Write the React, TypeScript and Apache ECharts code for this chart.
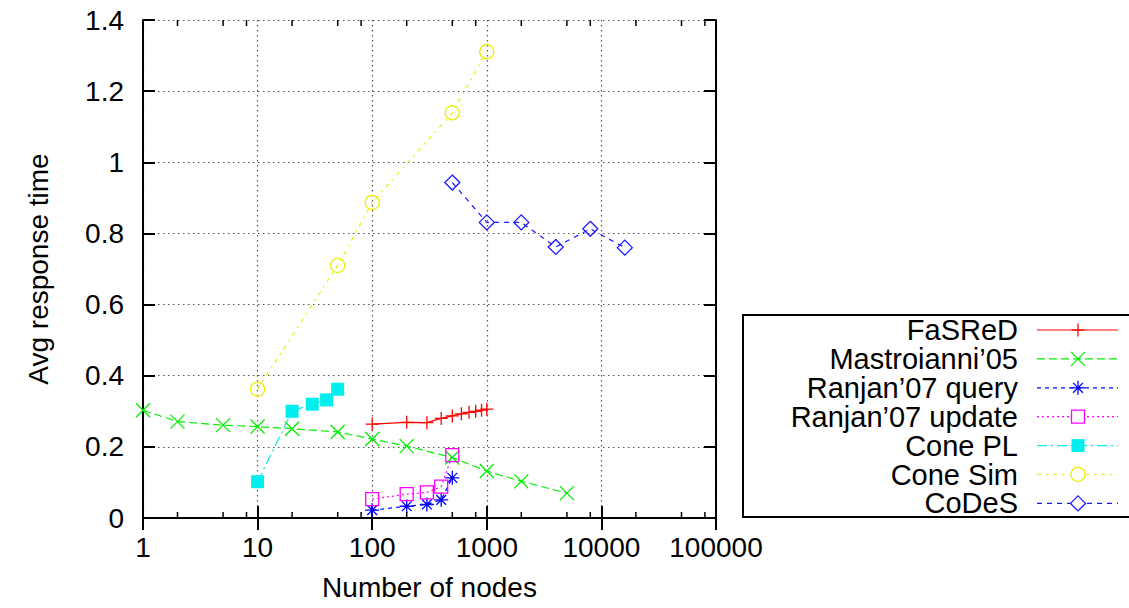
import React, { useEffect, useRef } from "react";
import * as echarts from "echarts";

// Number of nodes (x) and average response time (y) per system
const fasredX = [100, 200, 300, 400, 500, 600, 700, 800, 900, 1000];
const fasredY = [0.264, 0.269, 0.268, 0.28, 0.287, 0.293, 0.297, 0.3, 0.303, 0.306];

const mastroX = [1, 2, 5, 10, 20, 50, 100, 200, 500, 1000, 2000, 5000];
const mastroY = [0.303, 0.271, 0.261, 0.257, 0.251, 0.242, 0.222, 0.202, 0.17, 0.132, 0.103, 0.07];

const ranjanQueryX = [100, 200, 300, 400, 500];
const ranjanQueryY = [0.022, 0.033, 0.038, 0.051, 0.113];

const ranjanUpdateX = [100, 200, 300, 400, 500];
const ranjanUpdateY = [0.053, 0.067, 0.072, 0.088, 0.177];

const conePLX = [10, 20, 30, 40, 50];
const conePLY = [0.102, 0.3, 0.32, 0.332, 0.362];

const coneSimX = [10, 50, 100, 500, 1000];
const coneSimY = [0.362, 0.71, 0.887, 1.139, 1.311];

const codesX = [500, 1000, 2000, 4000, 8000, 16000];
const codesY = [0.943, 0.831, 0.831, 0.762, 0.813, 0.76];

const seriesNames = [
  "FaSReD",
  "Mastroianni\u201905",
  "Ranjan\u201907 query",
  "Ranjan\u201907 update",
  "Cone PL",
  "Cone Sim",
  "CoDeS",
];

const xTickLabels = ["1", "10", "100", "1000", "10000", "100000"];
const yTickLabels = ["0", "0.2", "0.4", "0.6", "0.8", "1", "1.2", "1.4"];
const minorTickValues = [
  2, 5, 8, 20, 50, 80, 200, 500, 800, 2000, 5000, 8000, 20000, 50000, 80000,
];

const X_MIN = 1;
const X_MAX = 100000;
const Y_MIN = 0;
const Y_MAX = 1.4;

const FONT = "'Liberation Sans', Arial, Helvetica, sans-serif";
const FONT_SIZE = 28;
const LEGEND_FONT_SIZE = 29;

type MarkerKind = "plus" | "cross" | "star" | "openSquare" | "square" | "circle" | "diamond";

interface SeriesStyle {
  color: string;
  dash: number[] | "solid";
  marker: MarkerKind;
  size: number;
}

const styles: SeriesStyle[] = [
  { color: "#ff0000", dash: "solid", marker: "plus", size: 13 },
  { color: "#00ee00", dash: [8, 4], marker: "cross", size: 14 },
  { color: "#0000ff", dash: [4, 4], marker: "star", size: 14 },
  { color: "#ff00ff", dash: [2, 3], marker: "openSquare", size: 13 },
  { color: "#00eeee", dash: [10, 4, 2, 4], marker: "square", size: 13 },
  { color: "#eeee00", dash: [4, 5, 2, 5], marker: "circle", size: 14 },
  { color: "#1a1aff", dash: [5, 5], marker: "diamond", size: 15 },
];

const seriesData: [number[], number[]][] = [
  [fasredX, fasredY],
  [mastroX, mastroY],
  [ranjanQueryX, ranjanQueryY],
  [ranjanUpdateX, ranjanUpdateY],
  [conePLX, conePLY],
  [coneSimX, coneSimY],
  [codesX, codesY],
];

const symbolFor = (m: MarkerKind): string => {
  switch (m) {
    case "plus":
      return "path://M0,5L10,5M5,0L5,10";
    case "cross":
      return "path://M0,0L10,10M10,0L0,10";
    case "star":
      return "path://M0,5L10,5M5,0L5,10M1.5,1.5L8.5,8.5M8.5,1.5L1.5,8.5";
    case "openSquare":
    case "square":
      return "rect";
    case "circle":
      return "circle";
    case "diamond":
      return "diamond";
  }
};

const isFilled = (m: MarkerKind) => m === "square";

// Legend marker drawn with graphic primitives
const legendMarker = (m: MarkerKind, cx: number, cy: number, color: string, size: number): any[] => {
  const h = size / 2;
  const stroke = { stroke: color, lineWidth: 1.3, fill: "none" };
  const seg = (x1: number, y1: number, x2: number, y2: number) => ({
    type: "line",
    shape: { x1: cx + x1, y1: cy + y1, x2: cx + x2, y2: cy + y2 },
    style: stroke,
  });
  switch (m) {
    case "plus":
      return [seg(-h, 0, h, 0), seg(0, -h, 0, h)];
    case "cross":
      return [seg(-h, -h, h, h), seg(h, -h, -h, h)];
    case "star": {
      const d = h * 0.7;
      return [seg(-h, 0, h, 0), seg(0, -h, 0, h), seg(-d, -d, d, d), seg(d, -d, -d, d)];
    }
    case "openSquare":
      return [{ type: "rect", shape: { x: cx - h, y: cy - h, width: size, height: size }, style: { ...stroke, fill: "#fff" } }];
    case "square":
      return [{ type: "rect", shape: { x: cx - h, y: cy - h, width: size, height: size }, style: { fill: color } }];
    case "circle":
      return [{ type: "circle", shape: { cx, cy, r: h }, style: { ...stroke, fill: "#fff" } }];
    case "diamond":
      return [
        {
          type: "polygon",
          shape: { points: [[cx, cy - h], [cx + h, cy], [cx, cy + h], [cx - h, cy]] },
          style: { ...stroke, fill: "#fff" },
        },
      ];
  }
};

export default function App() {
  const ref = useRef<HTMLDivElement>(null);

  useEffect(() => {
    if (!ref.current) return;
    const chart = echarts.init(ref.current, undefined, { renderer: "svg" });

    const lineSeries = seriesNames.map((name, i) => {
      const st = styles[i];
      const [xs, ys] = seriesData[i];
      return {
        name,
        type: "line",
        xAxisIndex: 0,
        yAxisIndex: 0,
        data: xs.map((x, k) => [x, ys[k]]),
        symbol: symbolFor(st.marker),
        symbolSize: st.size,
        showAllSymbol: true,
        lineStyle: { color: st.color, width: 1.2, type: st.dash },
        itemStyle: {
          color: isFilled(st.marker) ? st.color : "rgba(255,255,255,0)",
          borderColor: st.color,
          borderWidth: isFilled(st.marker) ? 0 : 1.3,
        },
        emphasis: { disabled: true },
        z: 3,
      };
    });

    // Minor log ticks on the bottom and top edges of the frame
    const minorTicks = {
      type: "custom",
      xAxisIndex: 0,
      yAxisIndex: 0,
      silent: true,
      clip: false,
      data: minorTickValues.map((v) => [v, Y_MIN]),
      encode: { x: 0, y: 1 },
      z: 4,
      renderItem: (_params: any, api: any) => {
        const v = api.value(0);
        const b = api.coord([v, Y_MIN]);
        const t = api.coord([v, Y_MAX]);
        const style = { stroke: "#000", lineWidth: 1.5 };
        return {
          type: "group",
          children: [
            { type: "line", shape: { x1: b[0], y1: b[1], x2: b[0], y2: b[1] - 6 }, style },
            { type: "line", shape: { x1: t[0], y1: t[1], x2: t[0], y2: t[1] + 6 }, style },
          ],
        };
      },
    };

    // Legend box on the right
    const legendTop = 330;
    const legendStep = 28.9;
    const legendGraphics: any[] = [
      {
        type: "rect",
        shape: { x: 743, y: 315, width: 400, height: 202 },
        style: { fill: "none", stroke: "#000", lineWidth: 2 },
      },
    ];
    seriesNames.forEach((name, i) => {
      const y = legendTop + i * legendStep;
      const st = styles[i];
      legendGraphics.push({
        type: "text",
        x: 1018,
        y,
        style: {
          text: name,
          font: `${LEGEND_FONT_SIZE}px ${FONT}`,
          fill: "#000",
          align: "right",
          verticalAlign: "middle",
        },
      });
      legendGraphics.push({
        type: "line",
        shape: { x1: 1037, y1: y, x2: 1118, y2: y },
        style: {
          stroke: st.color,
          lineWidth: 1.2,
          lineDash: st.dash === "solid" ? null : st.dash,
        },
      });
      legendGraphics.push(...legendMarker(st.marker, 1078, y, st.color, st.size));
    });

    const labelStyle = { color: "#000", fontFamily: FONT, fontSize: FONT_SIZE };
    const gridLine = { show: true, lineStyle: { color: "#555", width: 1.2, type: [1.5, 3.5] as number[] } };

    chart.setOption({
      animation: false,
      backgroundColor: "#fff",
      grid: { left: 143, right: 413, top: 20, bottom: 90, containLabel: false },
      xAxis: [
        {
          type: "log",
          logBase: 10,
          min: X_MIN,
          max: X_MAX,
          position: "bottom",
          name: "Number of nodes",
          nameLocation: "middle",
          nameGap: 55,
          nameTextStyle: labelStyle,
          axisLine: { show: true, lineStyle: { color: "#000", width: 2 } },
          axisTick: { show: true, inside: true, length: 12, lineStyle: { color: "#000", width: 2 } },
          axisLabel: {
            ...labelStyle,
            margin: 15,
            formatter: (v: number) => xTickLabels[Math.round(Math.log10(v))] ?? String(v),
          },
          splitLine: gridLine,
          minorTick: { show: false },
        },
        {
          type: "log",
          logBase: 10,
          min: X_MIN,
          max: X_MAX,
          position: "top",
          axisLine: { show: true, lineStyle: { color: "#000", width: 2 } },
          axisTick: { show: true, inside: true, length: 12, lineStyle: { color: "#000", width: 2 } },
          axisLabel: { show: false },
          splitLine: { show: false },
        },
      ],
      yAxis: [
        {
          type: "value",
          min: Y_MIN,
          max: Y_MAX,
          interval: 0.2,
          position: "left",
          name: "Avg response time",
          nameLocation: "middle",
          nameGap: 91,
          nameTextStyle: labelStyle,
          axisLine: { show: true, lineStyle: { color: "#000", width: 2 } },
          axisTick: { show: true, inside: true, length: 12, lineStyle: { color: "#000", width: 2 } },
          axisLabel: {
            ...labelStyle,
            margin: 19,
            formatter: (v: number) => yTickLabels[Math.round(v / 0.2)] ?? String(v),
          },
          splitLine: gridLine,
        },
        {
          type: "value",
          min: Y_MIN,
          max: Y_MAX,
          interval: 0.2,
          position: "right",
          axisLine: { show: true, lineStyle: { color: "#000", width: 2 } },
          axisTick: { show: true, inside: true, length: 12, lineStyle: { color: "#000", width: 2 } },
          axisLabel: { show: false },
          splitLine: { show: false },
        },
      ],
      graphic: legendGraphics,
      series: [...lineSeries, minorTicks],
    });

    return () => chart.dispose();
  }, []);

  return (
    <div
      ref={ref}
      style={{ position: "fixed", left: 0, top: 0, width: 1129, height: 608, background: "#fff" }}
    />
  );
}
